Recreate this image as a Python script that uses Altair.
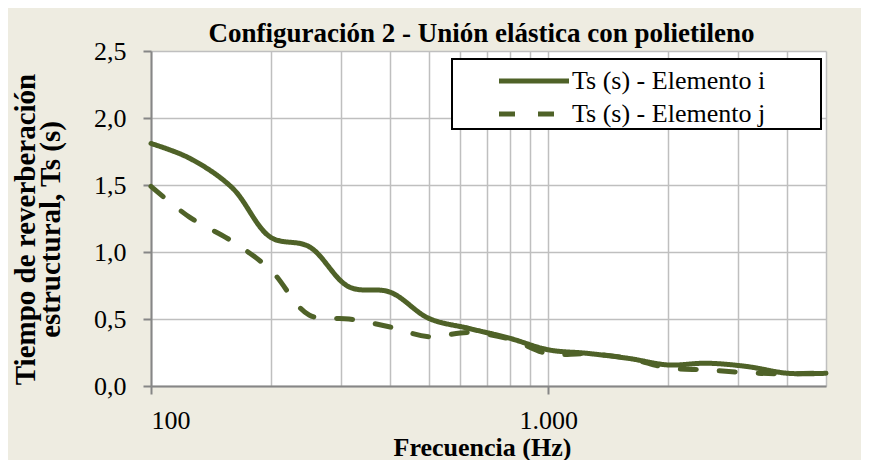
import altair as alt
import pandas as pd

freq = [100, 125, 160, 200, 250, 315, 400, 500, 630, 800, 1000, 1250, 1600, 2000, 2500, 3150, 4000, 5000]
ts_i = [1.81, 1.70, 1.48, 1.11, 1.04, 0.74, 0.70, 0.505, 0.43, 0.356, 0.27, 0.244, 0.205, 0.157, 0.17, 0.146, 0.095, 0.095]
ts_j = [1.49, 1.26, 1.08, 0.866, 0.53, 0.50, 0.44, 0.368, 0.40, 0.35, 0.24, 0.24, 0.205, 0.135, 0.12, 0.10, 0.09, 0.10]
series = ["Ts (s) - Elemento i", "Ts (s) - Elemento j"]
x_grid = [100, 200, 300, 400, 500, 600, 700, 800, 900, 1000, 2000, 3000, 4000, 5000]
y_ticks = [0, 0.5, 1.0, 1.5, 2.0, 2.5]

rows = []
for f, a, b in zip(freq, ts_i, ts_j):
    rows.append({"f": f, "v": a, "s": series[0]})
    rows.append({"f": f, "v": b, "s": series[1]})
df = pd.DataFrame(rows)

FONT = "Liberation Serif"
GREEN = "#4F6228"
GRID = "#BFBFBF"
AXIS = "#868686"

# blank (non-whitespace) spacer title on the right widens the legend box
leg = alt.Legend(title="\u2800" * 3, titleOrient="right", titlePadding=0, titleFontSize=23,
                 titleFont="DejaVu Sans",
                 labelLimit=500, symbolOffset=60, labelOffset=18)

chart = alt.Chart(df).mark_line(strokeWidth=5, strokeCap="round", interpolate="catmull-rom").encode(
    x=alt.X("f:Q",
            scale=alt.Scale(type="log", domain=[100, 5000], nice=False),
            axis=alt.Axis(values=x_grid,
                          labelExpr="datum.value == 100 ? '100' : datum.value == 1000 ? '1.000' : ''",
                          tickSize={"condition": {"test": "datum.value == 100 || datum.value == 1000", "value": 8}, "value": 0},
                          labelPadding=13,
                          title="Frecuencia (Hz)",
                          titleX=331, titleY=69, titleBaseline="alphabetic", titleAlign="center")),
    y=alt.Y("v:Q",
            scale=alt.Scale(domain=[0, 2.5], nice=False),
            axis=alt.Axis(values=y_ticks,
                          labelExpr="replace(format(datum.value, '.1f'), '.', ',')",
                          tickSize=8, labelPadding=17,
                          title=["Tiempo de reverberación", "estructural, Ts (s)"],
                          titleFontSize=29,
                          titleAngle=270, titleX=-117, titleY=178,
                          titleBaseline="alphabetic", titleAlign="center",
                          titleLineHeight=25)),
    color=alt.Color("s:N", scale=alt.Scale(domain=series, range=[GREEN, GREEN]), legend=leg),
    strokeDash=alt.StrokeDash("s:N", scale=alt.Scale(domain=series, range=[[1, 0], [16, 23]]), legend=leg),
).properties(
    width=675, height=335,
    autosize=alt.AutoSizeParams(type="none"),
    padding={"left": 143, "top": 43, "right": 35, "bottom": 74},
    background="#EEECE1",
    title=alt.TitleParams("Configuración 2 - Unión elástica con polietileno",
                          font=FONT, fontSize=27, fontWeight="bold", color="black",
                          anchor="middle", baseline="alphabetic", offset=0, dx=-7, dy=31),
).configure_view(
    fill="white", stroke=None
).configure_axis(
    labelFont=FONT, labelFontSize=26, labelColor="black",
    titleFont=FONT, titleFontSize=26, titleFontWeight="bold", titleColor="black",
    gridColor=GRID, gridWidth=1.5, domainColor=AXIS, domainWidth=2,
    tickColor=AXIS, tickWidth=2,
).configure_legend(
    orient="none", legendX=301, legendY=8,
    fillColor="white", strokeColor="black", strokeWidth=2, padding=2,
    labelFont=FONT, labelFontSize=26, labelColor="black",
    symbolType="M-2,0H2", symbolSize=1225, symbolStrokeWidth=5,
    rowPadding=0,
)

chart.save("out.html", embed_options={"renderer": "svg", "actions": False})
